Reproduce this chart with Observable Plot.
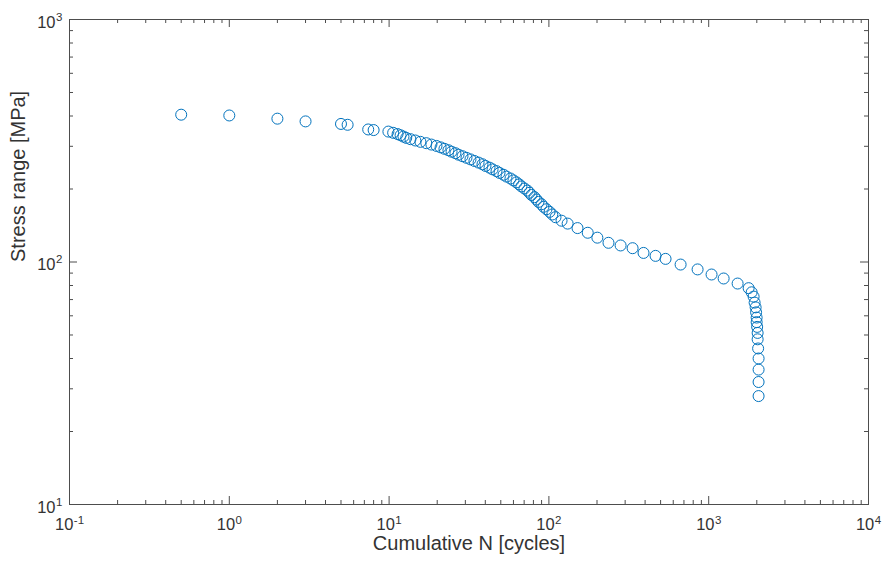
<!DOCTYPE html>
<html>
<head>
<meta charset="utf-8">
<script src="https://cdn.jsdelivr.net/npm/d3@7"></script>
<script src="https://cdn.jsdelivr.net/npm/@observablehq/plot@0.6"></script>
<style>
  html, body { margin: 0; padding: 0; background: #fff; }
  #chart svg { display: block; }
</style>
</head>
<body>
<div id="chart"></div>
<script>
// ---- data ----
const cumulativeN = [
  0.5, 1, 2, 3, 5, 5.5, 7.4, 8,
  9.9, 10.6, 11.3, 11.8, 12.3, 12.8, 13.6, 14.6, 15.7, 17.1,
  18.4, 19.8, 21.0, 22.2, 23.5, 24.6, 26.0, 27.2, 28.8, 30.5,
  32.3, 34.2, 36.3, 38.4, 40.1, 42.5, 44.4, 47.0, 49.1, 52.0,
  54.3, 57.5, 60.0, 62.7, 65.1, 67.3, 70.3, 73.4, 75.6, 77.8,
  81.3, 83.6, 86.1, 89.9, 92.5, 96.6, 101, 105, 110,
  120, 131, 151, 175, 201, 236, 281, 334, 391, 465, 537, 667, 852, 1042, 1240, 1517,
  1778, 1857, 1910, 1938, 1966, 1980, 1995, 1995, 2010, 2024, 2024, 2038, 2052, 2052, 2052, 2052
];
const stressRange = [
  405, 402, 390, 380, 371, 368, 352, 350,
  345, 341, 337, 333, 329, 325, 321, 317, 313, 309,
  305, 301, 297, 293, 289, 285, 281, 277, 273, 269,
  265, 261, 257, 253, 249, 245, 241, 237, 233, 229,
  225, 221, 217, 213, 209, 205, 201, 197, 193, 189,
  185, 181, 177, 173, 169, 165, 161, 157, 153,
  148, 144, 138, 132, 126, 120, 117, 114, 109, 106, 103, 97.6, 93.2, 88.8, 85.5, 81.5,
  78, 75, 72, 68, 65, 62, 59, 56.5, 54, 51, 48, 44, 40, 36, 32, 28
];

const xTicks = [0.1, 1, 10, 100, 1000, 10000];
const xTickExp = ["-1", "0", "1", "2", "3", "4"];
const yTicks = [10, 100, 1000];
const yTickExp = ["1", "2", "3"];
const xLabel = "Cumulative N [cycles]";
const yLabel = "Stress range [MPa]";

// ---- derived tables ----
const points = cumulativeN.map((n, i) => ({n, s: stressRange[i]}));
const minorOf = (majors) => majors.slice(0, -1).flatMap(m => d3.range(2, 10).map(k => k * m));
const xMinor = minorOf(xTicks);
const yMinor = minorOf(yTicks);
const xLab = xTicks.map((v, i) => ({v, e: xTickExp[i]}));
const yLab = yTicks.map((v, i) => ({v, e: yTickExp[i]}));

const W = 889, H = 569, ML = 69, MR = 21, MT = 19, MB = 65;
const FW = W - ML - MR, FH = H - MT - MB;
const axisColor = "#4d4d4d";
const textColor = "#333333";
const majorLen = 8, minorLen = 4;
const font = "'Liberation Sans', Arial, Helvetica, sans-serif";
const baseSize = 16.5, expSize = 11.5;

const neg = d => d.e.startsWith("-");
const pos = d => !d.e.startsWith("-");

const chart = Plot.plot({
  width: W, height: H,
  marginLeft: ML, marginRight: MR, marginTop: MT, marginBottom: MB,
  style: {fontFamily: font, background: "#fff"},
  x: {type: "log", domain: [0.1, 10000], axis: null},
  y: {type: "log", domain: [10, 1000], axis: null},
  marks: [
    // ticks (inward) on all four sides
    Plot.tickX(xTicks, {x: d => d, insetTop: FH - majorLen, stroke: axisColor, strokeWidth: 1}),
    Plot.tickX(xTicks, {x: d => d, insetBottom: FH - majorLen, stroke: axisColor, strokeWidth: 1}),
    Plot.tickX(xMinor, {x: d => d, insetTop: FH - minorLen, stroke: axisColor, strokeWidth: 1}),
    Plot.tickX(xMinor, {x: d => d, insetBottom: FH - minorLen, stroke: axisColor, strokeWidth: 1}),
    Plot.tickY(yTicks, {y: d => d, insetRight: FW - majorLen, stroke: axisColor, strokeWidth: 1}),
    Plot.tickY(yTicks, {y: d => d, insetLeft: FW - majorLen, stroke: axisColor, strokeWidth: 1}),
    Plot.tickY(yMinor, {y: d => d, insetRight: FW - minorLen, stroke: axisColor, strokeWidth: 1}),
    Plot.tickY(yMinor, {y: d => d, insetLeft: FW - minorLen, stroke: axisColor, strokeWidth: 1}),
    Plot.frame({stroke: axisColor, strokeWidth: 1}),

    // data
    Plot.dot(points, {x: "n", y: "s", r: 5.5, stroke: "#0072BD", strokeWidth: 1, fill: "none"}),

    // x tick labels: "10" + superscript exponent
    Plot.text(xLab.filter(pos), {x: "v", text: () => "10", frameAnchor: "bottom", dy: 25, dx: -3.4, textAnchor: "middle", fontSize: baseSize, fill: textColor}),
    Plot.text(xLab.filter(pos), {x: "v", text: "e", frameAnchor: "bottom", dy: 19.5, dx: 6.2, textAnchor: "start", fontSize: expSize, fill: textColor}),
    Plot.text(xLab.filter(neg), {x: "v", text: () => "10", frameAnchor: "bottom", dy: 25, dx: -5.3, textAnchor: "middle", fontSize: baseSize, fill: textColor}),
    Plot.text(xLab.filter(neg), {x: "v", text: "e", frameAnchor: "bottom", dy: 19.5, dx: 4.3, textAnchor: "start", fontSize: expSize, fill: textColor}),

    // y tick labels
    Plot.text(yLab, {y: "v", text: () => "10", frameAnchor: "left", dx: -14, dy: 3, textAnchor: "end", fontSize: baseSize, fill: textColor}),
    Plot.text(yLab, {y: "v", text: "e", frameAnchor: "left", dx: -7, dy: -2.5, textAnchor: "end", fontSize: expSize, fill: textColor}),

    // axis titles
    Plot.text([xLabel], {text: d => d, frameAnchor: "bottom", dy: 45, fontSize: 20, fill: textColor}),
    Plot.text([yLabel], {text: d => d, frameAnchor: "left", dx: -51, rotate: -90, fontSize: 20, fill: textColor})
  ]
});
document.getElementById("chart").appendChild(chart);
</script>
</body>
</html>
